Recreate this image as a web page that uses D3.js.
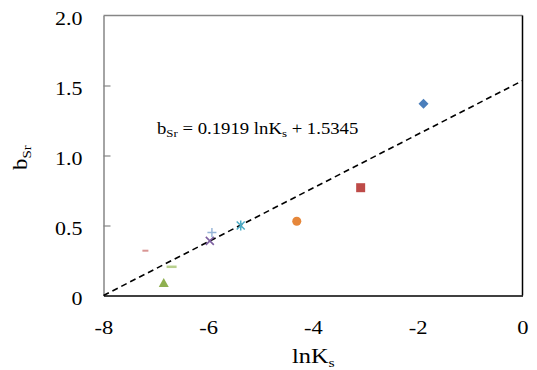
<html>
<head>
<script src="https://d3js.org/d3.v7.min.js"></script>
<style>
  body { margin: 0; background: #fff; }
  svg text { font-family: 'Liberation Serif', 'Times New Roman', serif !important; fill: #000; }
</style>
</head>
<body>
<svg width="537" height="370"></svg>
<script>
    // values
    const lnK = [-1.89, -3.09, -4.31, -5.38, -5.97, -5.93, -6.85, -6.70, -7.20];
    const bSr = [1.37, 0.77, 0.53, 0.50, 0.39, 0.45, 0.09, 0.205, 0.32];
    const shapes = ['diamond', 'square', 'circle', 'star', 'x', 'plus', 'triangle', 'bar', 'bar'];
    const colors = ['#4a7ebb', '#be4b48', '#e6873a', '#4bacc6', '#7d5fa0', '#95b3d7', '#8fb050', '#b9d08e', '#d99694'];
    const xTicks = [-8, -6, -4, -2, 0];
    const yTicks = [0, 0.5, 1.0, 1.5, 2.0];
    const slope = 0.1919, intercept = 1.5345;

    const L = 103.5, R = 522.5, T = 15.5, B = 295.5;
    const sx = 1.22; // text in the picture is stretched sideways
    const serif = "'Liberation Serif', 'Times New Roman', serif";

    const x = d3.scaleLinear().domain([-8, 0]).range([L, R]);
    const y = d3.scaleLinear().domain([0, 2]).range([B, T]);

    const svg = d3.select('svg');

    // frame
    svg.append('line').attr('x1', L).attr('x2', R).attr('y1', T).attr('y2', T)
        .attr('stroke', '#868686').attr('stroke-width', 1.5);
    svg.append('line').attr('x1', R).attr('x2', R).attr('y1', T).attr('y2', B)
        .attr('stroke', '#000').attr('stroke-width', 1.5);

    const yAxis = svg.append('g')
        .attr('transform', `translate(${L},0)`)
        .call(d3.axisLeft(y).tickValues(yTicks).tickSize(-7).tickSizeOuter(0)
            .tickFormat(d => d === 0 ? '0' : d3.format('.1f')(d)));
    yAxis.attr('font-family', serif);
    yAxis.select('.domain').attr('stroke', '#868686').attr('stroke-width', 1.5);
    yAxis.selectAll('line').attr('stroke', '#868686').attr('stroke-width', 1.2)
        .filter(d => d === 0 || d === 2).remove();
    yAxis.selectAll('text')
        .attr('x', null).attr('dy', null)
        .attr('transform', `translate(-21,8.5) scale(${sx},1)`)
        .style('font-size', '18px').attr('text-anchor', 'end');

    const xAxis = svg.append('g')
        .attr('transform', `translate(0,${B})`)
        .call(d3.axisBottom(x).tickValues(xTicks).tickSize(0).tickSizeOuter(0)
            .tickFormat(d => String(d)));
    xAxis.attr('font-family', serif);
    xAxis.select('.domain').attr('stroke', '#000').attr('stroke-width', 1.5);
    xAxis.selectAll('text')
        .attr('y', null).attr('dy', null)
        .attr('transform', `translate(0,38.5) scale(${sx},1)`)
        .style('font-size', '18.5px');

    // trend line
    svg.append('line')
        .attr('x1', x(-8)).attr('y1', y(Math.max(0, slope * -8 + intercept)))
        .attr('x2', x(0)).attr('y2', y(intercept))
        .attr('stroke', '#000').attr('stroke-width', 1.6)
        .attr('stroke-dasharray', '6,4');

    // markers
    const sym = {
        diamond: 'M0,-5L5,0L0,5L-5,0Z',
        square: d3.symbol(d3.symbolSquare, 81)(),
        circle: d3.symbol(d3.symbolCircle, 64)(),
        triangle: 'M0,-5L5,4L-5,4Z'
    };
    const pts = svg.append('g').selectAll('g')
        .data(lnK.map((v, i) => ({ v, b: bSr[i], s: shapes[i], c: colors[i], i })))
        .join('g')
        .attr('transform', d => `translate(${x(d.v)},${y(d.b)})`);

    pts.each(function(d) {
        const g = d3.select(this);
        if (sym[d.s]) {
            g.append('path').attr('d', sym[d.s]).attr('fill', d.c);
        } else if (d.s === 'bar') {
            const w = d.i === 7 ? 10 : 6, h = d.i === 7 ? 2.5 : 2;
            g.append('rect').attr('x', -w / 2).attr('y', -h / 2).attr('width', w).attr('height', h)
                .attr('fill', d.c);
        } else if (d.s === 'x') {
            g.append('path').attr('d', 'M-4,-4L4,4M-4,4L4,-4')
                .attr('stroke', d.c).attr('stroke-width', 1.6);
        } else if (d.s === 'plus') {
            g.append('path').attr('d', 'M-4.5,0L4.5,0M0,-4.5L0,4.5')
                .attr('stroke', d.c).attr('stroke-width', 1.4);
        } else if (d.s === 'star') {
            g.append('path').attr('d', 'M-4,-4L4,4M-4,4L4,-4M0,-5L0,5')
                .attr('stroke', d.c).attr('stroke-width', 1.5);
        }
    });

    // equation
    const eq = svg.append('text')
        .attr('transform', `translate(157,134) scale(1.17,1)`)
        .style('font-size', '16px');
    eq.append('tspan').text('b');
    eq.append('tspan').attr('dy', 3).style('font-size', '11px').text('Sr');
    eq.append('tspan').attr('dy', -3).text(' = 0.1919 lnK');
    eq.append('tspan').attr('dy', 3).style('font-size', '11px').text('s');
    eq.append('tspan').attr('dy', -3).text(' + 1.5345');

    // axis titles
    const xt = svg.append('text')
        .attr('transform', `translate(292,363) scale(${sx},1)`)
        .style('font-size', '20px');
    xt.append('tspan').text('lnK');
    xt.append('tspan').attr('dy', 4).style('font-size', '13px').text('s');

    const yt = svg.append('text')
        .attr('transform', `translate(27,170) rotate(-90) scale(1.15,1)`)
        .style('font-size', '20px');
    yt.append('tspan').text('b');
    yt.append('tspan').attr('dy', 4).style('font-size', '13px').text('Sr');
</script>
</body>
</html>
